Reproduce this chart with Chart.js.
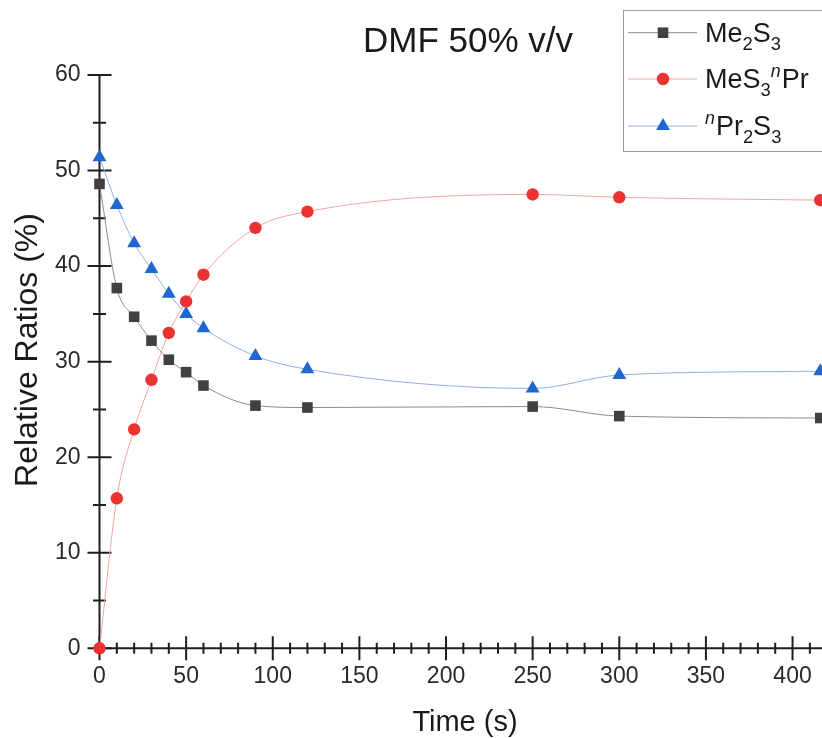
<!DOCTYPE html>
<html>
<head>
<meta charset="utf-8">
<script src="https://cdn.jsdelivr.net/npm/chart.js@4.4.1/dist/chart.umd.min.js"></script>
<style>
	body { margin: 0; background: #ffffff; }
	#wrap { width: 822px; height: 738px; }
</style>
</head>
<body>
<div id="wrap"><canvas id="ratioChart" width="822" height="738"></canvas></div>
<script>
// time points (s) and relative ratios (%)
var timeS = [0, 10, 20, 30, 40, 50, 60, 90, 120, 250, 300, 416];
var me2s3 = [48.6, 37.7, 34.7, 32.2, 30.2, 28.9, 27.5, 25.4, 25.2, 25.3, 24.3, 24.1];
var mes3npr = [0, 15.7, 22.9, 28.1, 33.0, 36.3, 39.1, 44.0, 45.7, 47.5, 47.2, 46.9];
var npr2s3 = [51.4, 46.4, 42.4, 39.7, 37.1, 35.0, 33.5, 30.6, 29.2, 27.2, 28.6, 29.0];

var xTicks = [0, 50, 100, 150, 200, 250, 300, 350, 400];
var yTicks = [0, 10, 20, 30, 40, 50, 60];

var chartTitle = "DMF 50% v/v";
var xTitle = "Time (s)";
var yTitle = "Relative Ratios (%)";

// legend labels split in normal / sub / sup pieces
var legendLabels = [
	[{t: "Me"}, {t: "2", sub: true}, {t: "S"}, {t: "3", sub: true}],
	[{t: "MeS"}, {t: "3", sub: true}, {t: "n", sup: true}, {t: "Pr"}],
	[{t: "n", sup: true}, {t: "Pr"}, {t: "2", sub: true}, {t: "S"}, {t: "3", sub: true}]
];

var FONT = "'Liberation Sans', Arial, sans-serif";

function toPoints(xs, ys) {
	var out = [];
	for (var i = 0; i < xs.length; i++) {
		out.push({x: xs[i], y: ys[i]});
	}
	return out;
}

function drawMarker(ctx, style, color, r, x, y) {
	ctx.fillStyle = color;
	ctx.beginPath();
	if (style == "rect") {
		var s = Math.SQRT1_2 * r;
		ctx.rect(x - s, y - s, 2 * s, 2 * s);
	} else if (style == "triangle") {
		ctx.moveTo(x, y - r);
		ctx.lineTo(x + r * 0.866, y + r / 2);
		ctx.lineTo(x - r * 0.866, y + r / 2);
		ctx.closePath();
	} else {
		ctx.arc(x, y, r, 0, Math.PI * 2);
	}
	ctx.fill();
}

function drawRich(ctx, x, y, parts, size) {
	var cx = x;
	for (const p of parts) {
		var fs = size;
		var dy = 0;
		var style = "";
		if (p.sub) { fs = size * 0.68; dy = size * 0.3; }
		if (p.sup) { fs = size * 0.66; dy = -size * 0.42; style = "italic "; }
		ctx.font = style + fs + "px " + FONT;
		ctx.fillText(p.t, cx, y + dy);
		cx += ctx.measureText(p.t).width + (p.sup ? 1 : 0);
	}
}

var decorPlugin = {
	id: "decor",
	beforeDatasetsDraw: function(chart) {
		var ctx = chart.ctx;
		var area = chart.chartArea;
		var xs = chart.scales.x;
		var ys = chart.scales.y;
		ctx.save();
		ctx.strokeStyle = "#1e1e1e";
		ctx.lineWidth = 2;
		// axis lines
		ctx.beginPath();
		ctx.moveTo(area.left, area.top);
		ctx.lineTo(area.left, area.bottom);
		ctx.lineTo(chart.width, area.bottom);
		ctx.stroke();
		// x ticks, major every 50 and minor every 10
		ctx.beginPath();
		for (var v = 0; xs.getPixelForValue(v) <= chart.width; v += 10) {
			var px = xs.getPixelForValue(v);
			var len = (v % 50 == 0) ? 12 : 5.5;
			ctx.moveTo(px, area.bottom - len);
			ctx.lineTo(px, area.bottom + len);
		}
		// y ticks, major every 10 and minor every 5
		for (var w = 0; w <= ys.max; w += 5) {
			var py = ys.getPixelForValue(w);
			var l2 = (w % 10 == 0) ? 12 : 6.5;
			ctx.moveTo(area.left - l2, py);
			ctx.lineTo(area.left + l2, py);
		}
		ctx.stroke();
		ctx.restore();
	},
	afterDraw: function(chart) {
		var ctx = chart.ctx;
		ctx.save();
		ctx.fillStyle = "#1a1a1a";
		ctx.textBaseline = "alphabetic";

		// title
		ctx.textAlign = "center";
		ctx.font = "35px " + FONT;
		ctx.fillText(chartTitle, 468, 52);

		// axis titles
		ctx.font = "29px " + FONT;
		ctx.fillText(xTitle, 465, 731);
		ctx.save();
		ctx.translate(37, 350);
		ctx.rotate(-Math.PI / 2);
		ctx.font = "32px " + FONT;
		ctx.fillText(yTitle, 0, 0);
		ctx.restore();

		// legend box
		ctx.strokeStyle = "#9a9a9a";
		ctx.lineWidth = 1;
		ctx.strokeRect(623.5, 10.5, 260, 141);
		ctx.textAlign = "left";
		var rows = [32.7, 79, 126];
		var ds = chart.data.datasets;
		for (var i = 0; i < ds.length; i++) {
			var ry = rows[i];
			ctx.strokeStyle = ds[i].borderColor;
			ctx.lineWidth = 1;
			ctx.beginPath();
			ctx.moveTo(628, ry);
			ctx.lineTo(697, ry);
			ctx.stroke();
			drawMarker(ctx, ds[i].pointStyle, ds[i].pointBackgroundColor, ds[i].pointRadius, 663, ry);
			ctx.fillStyle = "#1a1a1a";
			drawRich(ctx, 705, ry + 9, legendLabels[i], 27);
		}
		ctx.restore();
	}
};

var chart = {};

function buildChart() {
	var ctx = document.getElementById("ratioChart").getContext("2d");
	chart = new Chart(ctx, {
		type: "line",
		data: {
			datasets: [
				{
					label: "Me2S3",
					data: toPoints(timeS, me2s3),
					borderColor: "#8c8c8c",
					borderWidth: 1,
					pointStyle: "rect",
					pointRadius: 7.5,
					pointBackgroundColor: "#404040",
					pointBorderWidth: 0,
					cubicInterpolationMode: "monotone",
					clip: false
				},
				{
					label: "MeS3nPr",
					data: toPoints(timeS, mes3npr),
					borderColor: "#f2a3a3",
					borderWidth: 1,
					pointStyle: "circle",
					pointRadius: 6.2,
					pointBackgroundColor: "#ea3232",
					pointBorderWidth: 0,
					cubicInterpolationMode: "monotone",
					clip: false
				},
				{
					label: "nPr2S3",
					data: toPoints(timeS, npr2s3),
					borderColor: "#8fb0e0",
					borderWidth: 1,
					pointStyle: "triangle",
					pointRadius: 8,
					pointBackgroundColor: "#1f66d1",
					pointBorderWidth: 0,
					cubicInterpolationMode: "monotone",
					clip: false
				}
			]
		},
		options: {
			responsive: false,
			animation: false,
			events: [],
			layout: { autoPadding: false, padding: { top: 75, right: 0, left: 0, bottom: 0 } },
			plugins: {
				legend: { display: false },
				title: { display: false },
				tooltip: { enabled: false }
			},
			scales: {
				x: {
					type: "linear",
					min: 0,
					max: 417,
					grid: { display: false, drawTicks: false },
					border: { display: false },
					afterBuildTicks: function(s) {
						s.ticks = xTicks.map(v => ({value: v}));
					},
					afterFit: function(s) {
						s.height = 89.7;
						s.paddingLeft = 0;
						s.paddingRight = 0;
					},
					ticks: {
						padding: 15,
						maxRotation: 0,
						color: "#2a2a2a",
						font: { family: FONT, size: 23 }
					}
				},
				y: {
					type: "linear",
					min: 0,
					max: 60,
					grid: { display: false, drawTicks: false },
					border: { display: false },
					afterBuildTicks: function(s) {
						s.ticks = yTicks.map(v => ({value: v}));
					},
					afterFit: function(s) {
						s.width = 99.5;
						s.paddingTop = 0;
						s.paddingBottom = 0;
					},
					ticks: {
						padding: 19,
						color: "#2a2a2a",
						font: { family: FONT, size: 23 }
					}
				}
			}
		},
		plugins: [decorPlugin]
	});
}

window.onload = function() {
	buildChart();
}
</script>
</body>
</html>
